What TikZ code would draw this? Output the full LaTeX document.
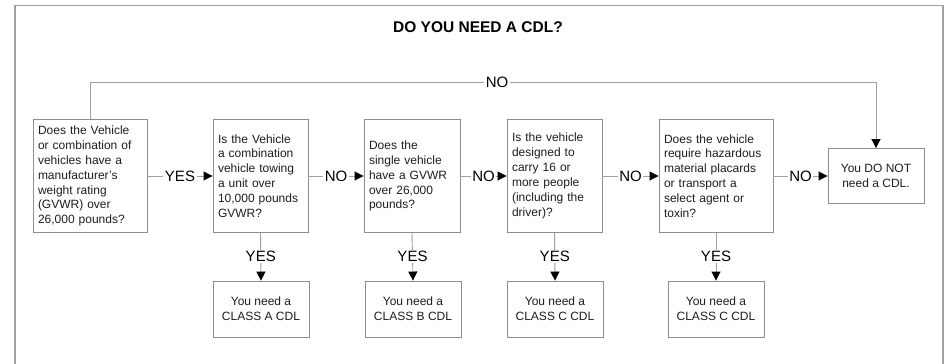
\documentclass[tikz,border=0pt]{standalone}
\usepackage{fontspec}
\setmainfont{Liberation Sans}
\usetikzlibrary{arrows.meta}
\definecolor{linegray}{HTML}{A0A0A0}
\definecolor{boxgray}{HTML}{8E8E8E}
\definecolor{txt}{HTML}{1E1E1E}
\begin{document}
\begin{tikzpicture}[x=1pt,y=-1pt,
  qbox/.style={draw=boxgray, line width=0.9pt, rectangle, inner xsep=5pt, inner ysep=0pt,
    minimum height=113pt, align=left, text=txt,
    font=\fontsize{12}{14.9}\selectfont},
  abox/.style={draw=boxgray, line width=0.9pt, rectangle, inner sep=0pt,
    minimum width=96pt, minimum height=56pt, align=center, text=txt,
    font=\fontsize{12}{15}\selectfont},
  conn/.style={draw=linegray, line width=0.9pt, -{Triangle[length=9pt,width=9pt,black]}},
  lab/.style={fill=white, inner xsep=1.5pt, inner ysep=1pt, text=black,
    font=\fontsize{15}{15}\selectfont},
  ttl/.style={font=\bfseries\fontsize{15.5}{16}\selectfont, text=black, inner sep=0pt}
]
\useasboundingbox (0,0) rectangle (951,364);
\fill[white] (0,0) rectangle (951,364);
\draw[linegray, line width=1.5pt] (15,370) -- (15,5.5) -- (943,5.5) -- (943,370);

\node[ttl] (title) at (478,27) {DO YOU NEED A CDL?};

\node[qbox, minimum width=114pt, text width=104pt] (b1) at (90,176)
  {Does the Vehicle\\or combination of\\vehicles have a\\manufacturer's\\weight rating\\(GVWR) over\\26,000 pounds?};
\node[qbox, minimum width=95pt, text width=85pt] (b2) at (260.5,176)
  {Is the Vehicle\\a combination\\vehicle towing\\a unit over\\10,000 pounds\\GVWR?};
\node[qbox, minimum width=96pt, text width=86pt] (b3) at (412,176)
  {Does the\\single vehicle\\have a GVWR\\over 26,000\\pounds?};
\node[qbox, minimum width=95pt, text width=85pt] (b4) at (554.5,176)
  {Is the vehicle\\designed to\\carry 16 or\\more people\\(including the\\driver)?};
\node[qbox, minimum width=114pt, text width=104pt] (b5) at (716,176)
  {Does the vehicle\\require hazardous\\material placards\\or transport a\\select agent or\\toxin?};
\node[abox, minimum height=55pt] (b6) at (876,176) {You DO NOT\\need a CDL.};

\node[abox] (cA) at (261,309) {You need a\\CLASS A CDL};
\node[abox] (cB) at (413,309) {You need a\\CLASS B CDL};
\node[abox] (cC) at (555,309) {You need a\\CLASS C CDL};
\node[abox] (cD) at (716,309) {You need a\\CLASS C CDL};

\draw[conn] (b1.east) -- node[lab] {YES} (b2.west);
\draw[conn] (b2.east) -- node[lab] {NO} (b3.west);
\draw[conn] (b3.east) -- node[lab] {NO} (b4.west);
\draw[conn] (b4.east) -- node[lab] {NO} (b5.west);
\draw[conn] (b5.east) -- node[lab] {NO} (b6.west);

\draw[conn] (b2.south) -- node[lab] {YES} (cA.north);
\draw[conn] (b3.south) -- node[lab] {YES} (cB.north);
\draw[conn] (b4.south) -- node[lab] {YES} (cC.north);
\draw[conn] (b5.south) -- node[lab] {YES} (cD.north);

\coordinate (tl) at (90,82);
\coordinate (tr) at (876,82);
\draw[conn] (b1.north) -- (tl) -- node[lab, pos=0.518] {NO} (tr) -- (b6.north);
\end{tikzpicture}
\end{document}
